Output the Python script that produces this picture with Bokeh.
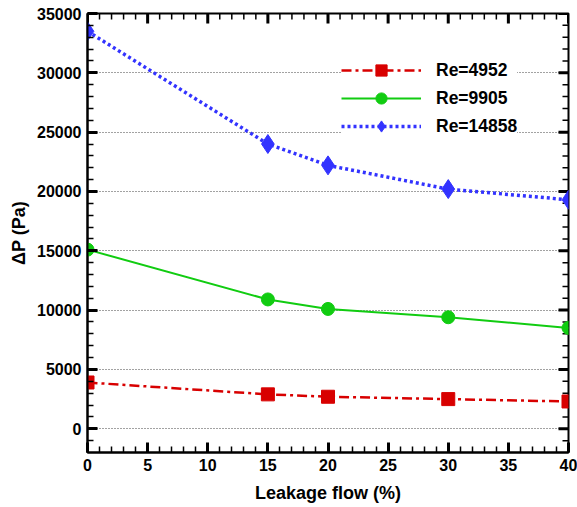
import math
from bokeh.plotting import figure
from bokeh.models import Range1d, Legend, LegendItem, FixedTicker
from bokeh.embed import file_html
from bokeh.resources import INLINE

leakage = [0, 15, 20, 30, 40]
dp_re4952 = [3900, 2900, 2700, 2500, 2300]
dp_re9905 = [15100, 10900, 10100, 9400, 8500]
dp_re14858 = [33500, 24000, 22200, 20200, 19300]
labels = ["Re=4952", "Re=9905", "Re=14858"]

X0, X1 = 0, 40
Y0, Y1 = -2000, 35000
x_major = list(range(0, 41, 5))
x_minor = [v for v in range(0, 41) if v % 5]
y_major = list(range(0, 35001, 5000))
y_minor = [v for v in range(-1000, 35000, 1000) if v % 5000]
y_grid = [0, 5000, 10000, 15000, 20000, 25000, 30000]

FONT = "Liberation Sans"

p = figure(width=577, height=507, output_backend="svg", toolbar_location=None,
           x_range=Range1d(X0, X1), y_range=Range1d(Y0, Y1),
           min_border_left=87, min_border_right=9, min_border_top=13, min_border_bottom=55)
p.outline_line_color = "black"
p.outline_line_width = 2
p.xgrid.visible = False

p.xaxis.ticker = FixedTicker(ticks=x_major, minor_ticks=x_minor)
p.yaxis.ticker = FixedTicker(ticks=y_major, minor_ticks=y_minor)
p.xaxis.axis_label = "Leakage flow (%)"
p.yaxis.axis_label = "ΔP (Pa)"
p.xaxis.axis_label_standoff = 9
p.yaxis.axis_label_standoff = 5
for ax in (p.xaxis, p.yaxis):
    ax.axis_line_width = 2
    ax.axis_line_color = "black"
    ax.major_tick_in = 10
    ax.major_tick_out = 0
    ax.minor_tick_in = 6
    ax.minor_tick_out = 0
    ax.major_tick_line_width = 3
    ax.minor_tick_line_width = 1.5
    ax.major_tick_line_color = "black"
    ax.minor_tick_line_color = "black"
    ax.major_label_text_font = FONT
    ax.major_label_text_font_style = "bold"
    ax.major_label_text_font_size = "16px"
    ax.major_label_text_color = "black"
    ax.major_label_standoff = 6
    ax.axis_label_text_font = FONT
    ax.axis_label_text_font_style = "bold"
    ax.axis_label_text_font_size = "18px"
    ax.axis_label_text_color = "black"

p.ygrid.ticker = FixedTicker(ticks=y_grid)
p.ygrid.grid_line_color = "#444444"
p.ygrid.grid_line_dash = "1 2"
p.ygrid.grid_line_width = 1

# inward tick marks on the top and right sides (half of each dash is clipped by the frame)
for ticks, size, lw in ((x_major, 20, 3), (x_minor, 12, 1.5)):
    p.scatter(ticks, [Y1] * len(ticks), marker="dash", angle=math.pi / 2,
              size=size, line_color="black", line_width=lw)
for ticks, size, lw in ((y_major, 20, 3), (y_minor, 12, 1.5)):
    p.scatter([X1] * len(ticks), ticks, marker="dash", angle=0,
              size=size, line_color="black", line_width=lw)

r1l = p.line(leakage, dp_re4952, line_color="#D80000", line_width=2.5, line_dash="10 4 3 4")
r1m = p.scatter(leakage, dp_re4952, marker="square", size=13, fill_color="#D80000", line_color="#D80000")
r2l = p.line(leakage, dp_re9905, line_color="#11CC11", line_width=2)
r2m = p.scatter(leakage, dp_re9905, marker="circle", size=13, fill_color="#11CC11", line_color="#11CC11")
r3l = p.line(leakage, dp_re14858, line_color="#3333FF", line_width=3.5, line_dash="3 3")
r3m = p.scatter(leakage, dp_re14858, marker="diamond", size=19, fill_color="#3333FF", line_color="#3333FF")

legend = Legend(items=[
    LegendItem(label=labels[0], renderers=[r1l, r1m]),
    LegendItem(label=labels[1], renderers=[r2l, r2m]),
    LegendItem(label=labels[2], renderers=[r3l, r3m]),
], location=(254, 312))
legend.glyph_width = 80
legend.glyph_height = 28
legend.label_height = 28
legend.spacing = 0
legend.label_standoff = 15
legend.padding = 5
legend.border_line_color = None
legend.background_fill_color = "white"
legend.background_fill_alpha = 1
legend.label_text_font = FONT
legend.label_text_font_style = "bold"
legend.label_text_font_size = "17.5px"
legend.label_text_color = "black"
p.add_layout(legend, "center")

open("out.html", "w").write(file_html(p, INLINE))
